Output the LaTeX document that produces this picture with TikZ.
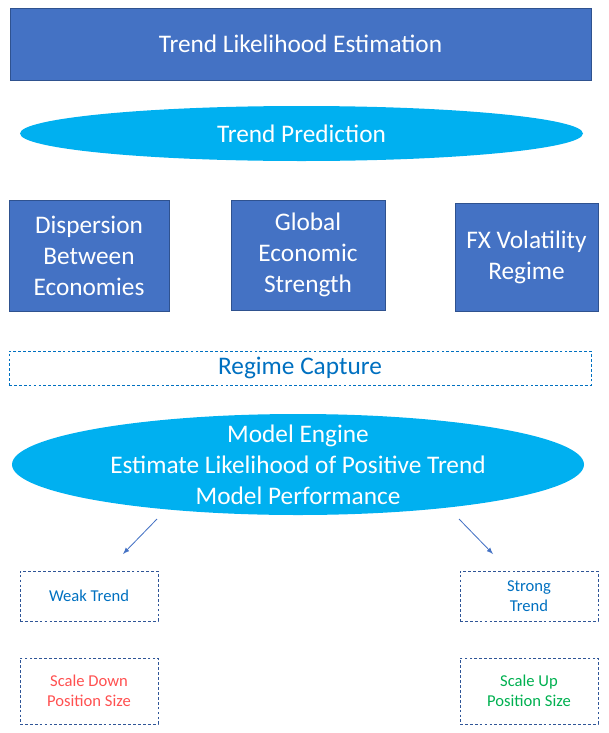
\documentclass[tikz,border=0pt]{standalone}
\usepackage{fontspec}
\setmainfont{Carlito}
\usepackage{tikz}
\usetikzlibrary{shapes.geometric}

\definecolor{bleu}{HTML}{4472C4}
\definecolor{bleubord}{HTML}{2F528F}
\definecolor{ciel}{HTML}{00B0F0}
\definecolor{bleutexte}{HTML}{0070C0}
\definecolor{pointille}{HTML}{2F5597}
\definecolor{rouge}{HTML}{FF5050}
\definecolor{vert}{HTML}{00B050}

\newcommand{\grand}{\fontsize{18}{22}\selectfont}
\newcommand{\petit}{\fontsize{11.8}{14.4}\selectfont}

\begin{document}
\begin{tikzpicture}
      \tikzstyle{carre}=[rectangle, draw=bleubord, fill=bleu, text=white, font=\grand, align=center, inner sep=0pt]
      \tikzstyle{ovale}=[ellipse, fill=ciel, text=white, font=\grand, align=center, inner sep=0pt]
      \tikzstyle{tirets}=[rectangle, draw=pointille, dash pattern=on 2pt off 1.5pt, font=\petit, align=center, inner sep=0pt, minimum width=3.45cm]
      \tikzstyle{fleche}=[->,>=latex,draw=bleu,line width=0.6pt]

      \useasboundingbox (0,0) rectangle (15.2,-18.325);

      \node[carre, minimum width=14.525cm, minimum height=1.8cm] (Titre) at (7.5125,-1.1) {Trend Likelihood Estimation};
      \node[ovale, minimum width=14.075cm, minimum height=1.375cm] (Pred) at (7.5375,-3.3375) {Trend Prediction};
      \node[carre, minimum width=4cm, minimum height=2.775cm] (Disp) at (2.225,-6.3875) {Dispersion\\Between\\Economies};
      \node[carre, minimum width=3.85cm, minimum height=2.75cm] (Glob) at (7.7,-6.375) {Global\\Economic\\Strength};
      \node[carre, minimum width=3.575cm, minimum height=2.7cm] (FX) at (13.1625,-6.425) {FX Volatility\\Regime};
      \node[tirets, draw=bleutexte, text=bleutexte, font=\grand, minimum width=14.55cm, minimum height=0.85cm] (Regime) at (7.5,-9.2) {Regime Capture};
      \node[ovale, inner ysep=-6pt, minimum width=14.3cm, minimum height=2.525cm] (Moteur) at (7.45,-11.6125) {Model Engine\\Estimate Likelihood of Positive Trend\\Model Performance};
      \node[tirets, text=bleutexte, minimum height=1.25cm] (Faible) at (2.225,-14.9) {Weak Trend};
      \node[tirets, text=bleutexte, minimum height=1.25cm] (Fort) at (13.225,-14.9) {Strong\\Trend};
      \node[tirets, text=rouge, minimum height=1.65cm] (Baisse) at (2.225,-17.275) {Scale Down\\Position Size};
      \node[tirets, text=vert, minimum height=1.65cm] (Hausse) at (13.225,-17.275) {Scale Up\\Position Size};

      \coordinate (DepG) at (3.925,-12.975);
      \coordinate (FinG) at (3.075,-13.85);
      \coordinate (DepD) at (11.475,-12.975);
      \coordinate (FinD) at (12.325,-13.85);
      \draw[fleche] (DepG)--(FinG);
      \draw[fleche] (DepD)--(FinD);

    \end{tikzpicture}
\end{document}
